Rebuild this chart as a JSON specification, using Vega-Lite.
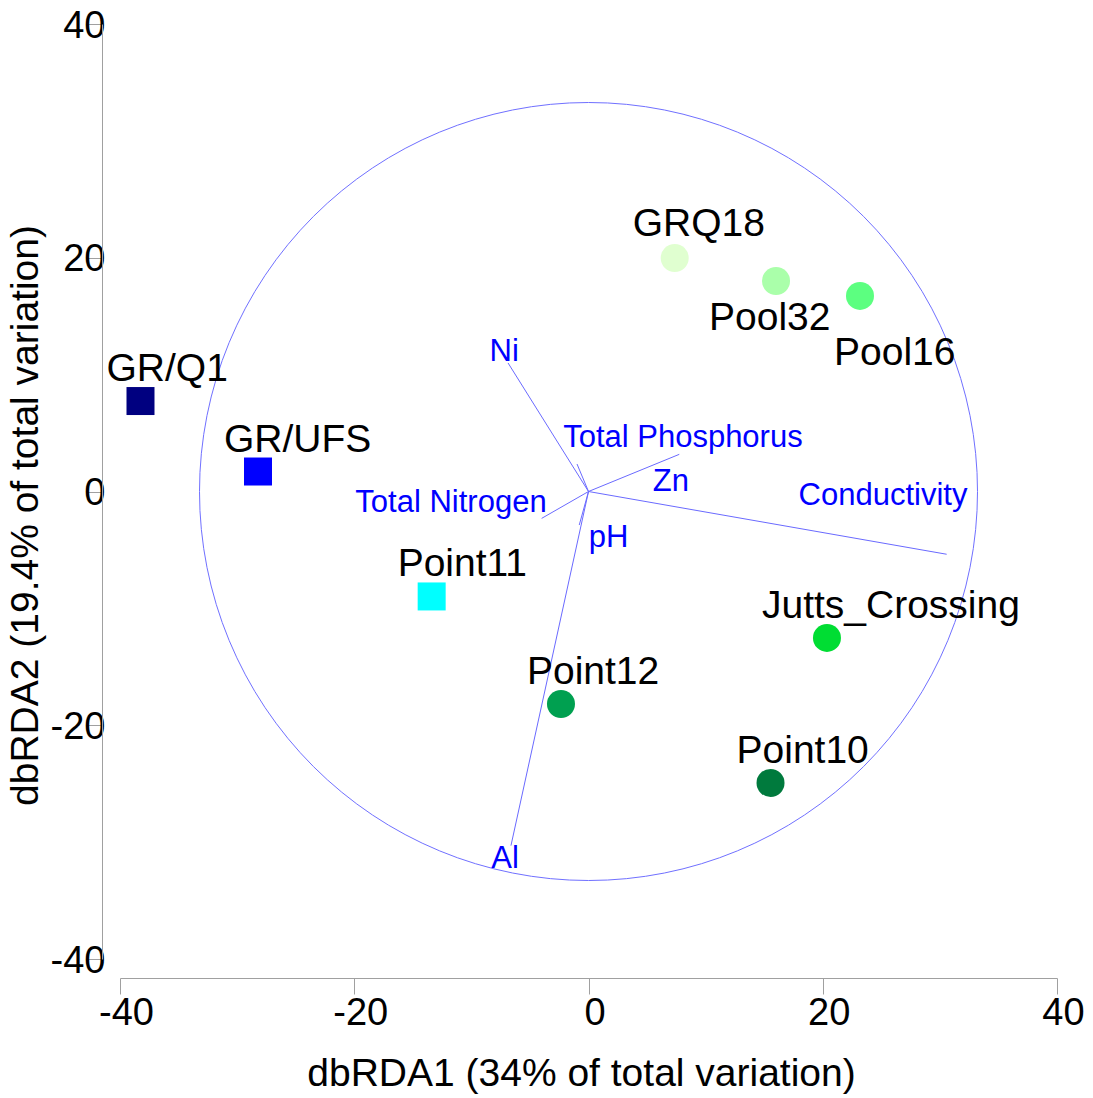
{
  "$schema": "https://vega.github.io/schema/vega-lite/v6.json",
  "width": 937,
  "height": 935,
  "autosize": "none",
  "padding": {"left": 120, "top": 24, "right": 36, "bottom": 139},
  "background": "white",
  "config": {
    "view": {"stroke": null},
    "font": "Liberation Sans",
    "text": {"font": "Liberation Sans"}
  },
  "datasets": {
    "samples": [
      {"site": "GR/Q1", "x": -38.25, "y": 7.74, "group": "square"},
      {"site": "GR/UFS", "x": -28.22, "y": 1.71, "group": "square"},
      {"site": "Point11", "x": -13.39, "y": -8.98, "group": "square"},
      {"site": "Point12", "x": -2.35, "y": -18.18, "group": "circle"},
      {"site": "Point10", "x": 15.54, "y": -24.94, "group": "circle"},
      {"site": "Jutts_Crossing", "x": 20.36, "y": -12.53, "group": "circle"},
      {"site": "GRQ18", "x": 7.36, "y": 19.98, "group": "circle"},
      {"site": "Pool32", "x": 16.01, "y": 18.01, "group": "circle"},
      {"site": "Pool16", "x": 23.18, "y": 16.73, "group": "circle"}
    ],
    "vectors": [
      {"variable": "Ni", "x0": 0, "y0": 0, "x": -6.87, "y": 11.0, "lx": -7.2, "ly": 11.9},
      {"variable": "Total Phosphorus", "x0": 0, "y0": 0, "x": -0.98, "y": 2.35, "lx": 8.06, "ly": 4.58},
      {"variable": "Zn", "x0": 0, "y0": 0, "x": 7.75, "y": 3.18, "lx": 7.04, "ly": 0.81},
      {"variable": "Total Nitrogen", "x0": 0, "y0": 0, "x": -4.0, "y": -2.3, "lx": -11.74, "ly": -0.98},
      {"variable": "pH", "x0": 0, "y0": 0, "x": -0.79, "y": -2.87, "lx": 1.71, "ly": -3.98},
      {"variable": "Al", "x0": 0, "y0": 0, "x": -6.62, "y": -30.3, "lx": -7.13, "ly": -31.45},
      {"variable": "Conductivity", "x0": 0, "y0": 0, "x": 30.58, "y": -5.37, "lx": 25.14, "ly": -0.38}
    ],
    "ring": [{"x": 0, "y": 0}]
  },
  "layer": [
    {
      "data": {"name": "ring"},
      "mark": {"type": "point", "shape": "circle", "filled": false, "color": "#7070ff", "size": 605284, "strokeWidth": 1, "opacity": 1},
      "encoding": {
        "x": {
          "field": "x", "type": "quantitative",
          "scale": {"domain": [-40, 40], "nice": false, "zero": false},
          "axis": {
            "values": [-40, -20, 0, 20, 40],
            "labelExpr": "'' + datum.value",
            "grid": false,
            "offset": 19,
            "domainColor": "#a0a0a0",
            "tickColor": "#a0a0a0",
            "tickSize": 16,
            "labelFontSize": 38,
            "labelFont": "Liberation Sans",
            "labelColor": "black",
            "labelPadding": 0,
            "labelOffset": 6,
            "labelFlush": false,
            "labelOverlap": false,
            "title": "dbRDA1 (34% of total variation)",
            "titleFont": "Liberation Sans",
            "titleFontSize": 39,
            "titleFontWeight": "normal",
            "titleColor": "black",
            "titlePadding": 22,
            "titleX": 461
          }
        },
        "y": {
          "field": "y", "type": "quantitative",
          "scale": {"domain": [-40, 40], "nice": false, "zero": false},
          "axis": {
            "values": [-40, -20, 0, 20, 40],
            "labelExpr": "'' + datum.value",
            "grid": false,
            "offset": 18,
            "domainColor": "#a0a0a0",
            "tickColor": "#a0a0a0",
            "tickSize": 15,
            "labelFontSize": 38,
            "labelFont": "Liberation Sans",
            "labelColor": "black",
            "labelPadding": -18,
            "labelOffset": 2,
            "labelFlush": false,
            "labelOverlap": false,
            "title": "dbRDA2 (19.4% of total variation)",
            "titleFont": "Liberation Sans",
            "titleFontSize": 39,
            "titleFontWeight": "normal",
            "titleColor": "black",
            "titlePadding": 5,
            "titleY": 491
          }
        }
      }
    },
    {
      "data": {"name": "vectors"},
      "mark": {"type": "rule", "color": "#6a6aff", "strokeWidth": 1},
      "encoding": {
        "x": {"field": "x0", "type": "quantitative"},
        "y": {"field": "y0", "type": "quantitative"},
        "x2": {"field": "x"},
        "y2": {"field": "y"}
      }
    },
    {
      "data": {"name": "vectors"},
      "mark": {"type": "text", "color": "#0000ff", "fontSize": 31, "align": "center", "baseline": "middle", "font": "Liberation Sans"},
      "encoding": {
        "x": {"field": "lx", "type": "quantitative"},
        "y": {"field": "ly", "type": "quantitative"},
        "text": {"field": "variable"}
      }
    },
    {
      "data": {"name": "samples"},
      "mark": {"type": "point", "filled": true, "opacity": 1, "size": 784},
      "encoding": {
        "x": {"field": "x", "type": "quantitative"},
        "y": {"field": "y", "type": "quantitative"},
        "shape": {"field": "group", "type": "nominal", "scale": {"domain": ["square", "circle"], "range": ["square", "circle"]}, "legend": null},
        "color": {
          "field": "site", "type": "nominal", "legend": null,
          "scale": {
            "domain": ["GR/Q1", "GR/UFS", "Point11", "Point12", "Point10", "Jutts_Crossing", "GRQ18", "Pool32", "Pool16"],
            "range": ["#000080", "#0000ff", "#00ffff", "#00a050", "#007a3d", "#00dd33", "#e0ffd0", "#aaffaa", "#5cff80"]
          }
        }
      }
    },
    {
      "data": {"name": "samples"},
      "transform": [{"filter": {"field": "site", "oneOf": ["GR/Q1", "GR/UFS", "Point11", "Point12", "Point10"]}}],
      "mark": {"type": "text", "color": "black", "fontSize": 39, "align": "left", "baseline": "middle", "dx": -34, "dy": -32, "font": "Liberation Sans"},
      "encoding": {"x": {"field": "x", "type": "quantitative"}, "y": {"field": "y", "type": "quantitative"}, "text": {"field": "site"}}
    },
    {
      "data": {"name": "samples"},
      "transform": [{"filter": {"field": "site", "equal": "Jutts_Crossing"}}],
      "mark": {"type": "text", "color": "black", "fontSize": 39, "align": "left", "baseline": "middle", "dx": -65, "dy": -32, "font": "Liberation Sans"},
      "encoding": {"x": {"field": "x", "type": "quantitative"}, "y": {"field": "y", "type": "quantitative"}, "text": {"field": "site"}}
    },
    {
      "data": {"name": "samples"},
      "transform": [{"filter": {"field": "site", "equal": "GRQ18"}}],
      "mark": {"type": "text", "color": "black", "fontSize": 39, "align": "left", "baseline": "middle", "dx": -42, "dy": -34, "font": "Liberation Sans"},
      "encoding": {"x": {"field": "x", "type": "quantitative"}, "y": {"field": "y", "type": "quantitative"}, "text": {"field": "site"}}
    },
    {
      "data": {"name": "samples"},
      "transform": [{"filter": {"field": "site", "equal": "Pool32"}}],
      "mark": {"type": "text", "color": "black", "fontSize": 39, "align": "left", "baseline": "middle", "dx": -67, "dy": 37, "font": "Liberation Sans"},
      "encoding": {"x": {"field": "x", "type": "quantitative"}, "y": {"field": "y", "type": "quantitative"}, "text": {"field": "site"}}
    },
    {
      "data": {"name": "samples"},
      "transform": [{"filter": {"field": "site", "equal": "Pool16"}}],
      "mark": {"type": "text", "color": "black", "fontSize": 39, "align": "left", "baseline": "middle", "dx": -26, "dy": 57, "font": "Liberation Sans"},
      "encoding": {"x": {"field": "x", "type": "quantitative"}, "y": {"field": "y", "type": "quantitative"}, "text": {"field": "site"}}
    }
  ]
}
